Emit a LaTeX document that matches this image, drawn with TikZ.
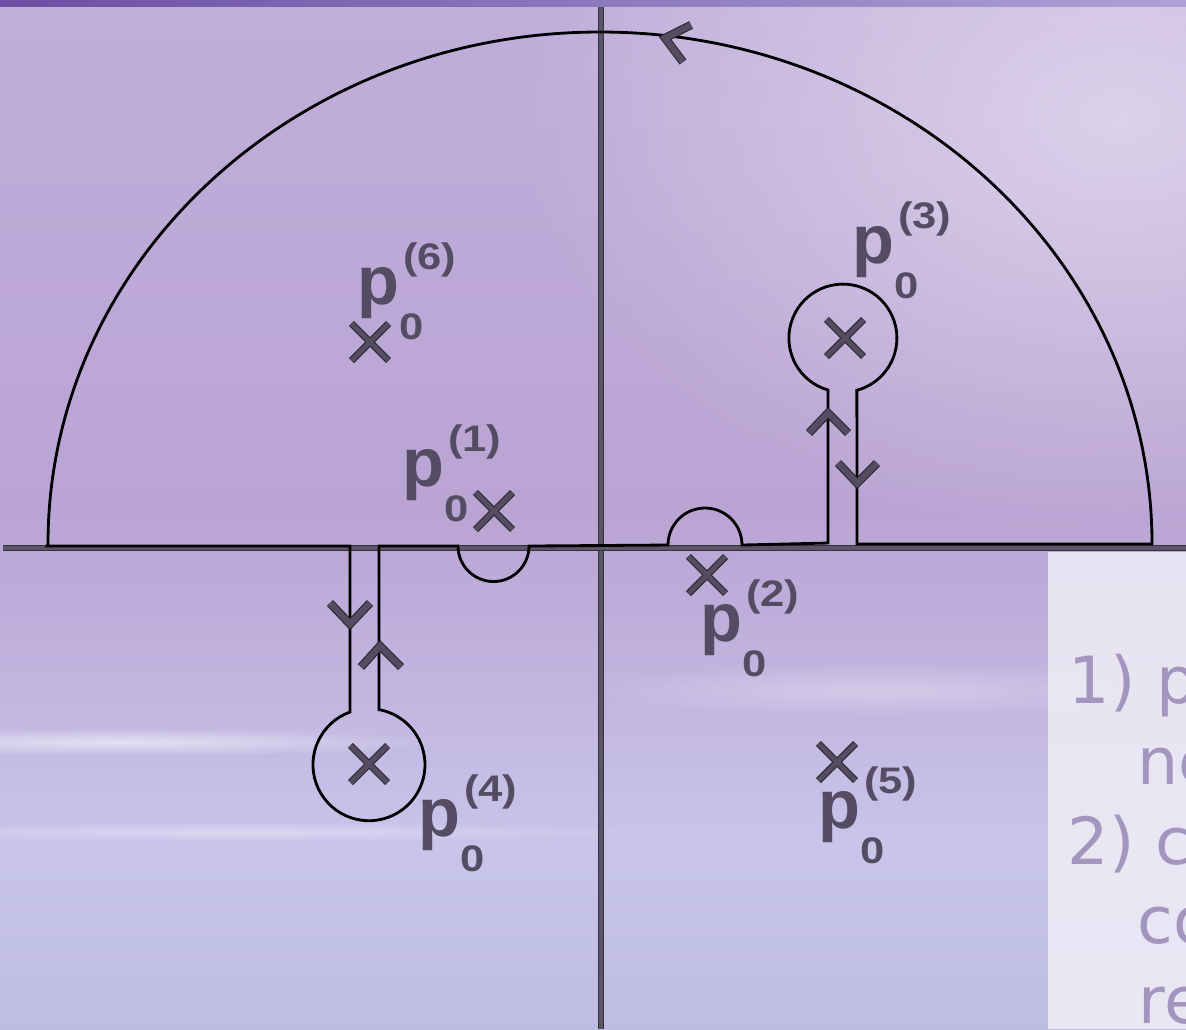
\documentclass[tikz,border=0pt]{standalone}
\usepackage{fontspec}
\usepackage{graphicx}
\usepackage{xcolor}
\usepackage{tikz}
\usetikzlibrary{shapes.misc,fadings}
\newfontfamily\labfont{Liberation Sans}
\newfontfamily\notefont{DejaVu Sans}
\definecolor{markgray}{RGB}{84,76,98}
\definecolor{axisgray}{RGB}{92,84,106}
\definecolor{notegray}{RGB}{163,150,190}
\definecolor{boxwhite}{RGB}{238,236,246}
\definecolor{bgtop}{RGB}{198,184,224}
\definecolor{bgmid}{RGB}{186,164,212}
\definecolor{bgsea}{RGB}{200,196,234}
\definecolor{bglow}{RGB}{186,184,222}
\definecolor{bgbot}{RGB}{168,166,204}
\definecolor{bandL}{RGB}{108,78,164}
\definecolor{bandR}{RGB}{172,162,216}
\pgfdeclareverticalshading{skyshade}{100bp}{color(0bp)=(bgbot); color(20bp)=(bglow);
  color(34bp)=(bgsea); color(50bp)=(bgmid); color(100bp)=(bgtop)}
\tikzfading[name=glow, inner color=transparent!0, outer color=transparent!100]
% p_0^{(k)} label
\newcommand{\pz}[1]{{\fontsize{19.5pt}{20pt}\selectfont p}%
  \rlap{\kern1pt\raisebox{9.7pt}{\scalebox{1.18}[1]{\fontsize{10.5pt}{11pt}\selectfont(#1)}}}%
  \raisebox{-10.2pt}{\scalebox{1.18}[1]{\fontsize{10.5pt}{11pt}\selectfont 0}}}

\begin{document}
\begin{tikzpicture}[x=0.01cm,y=-0.01cm,
  contour/.style={draw=black,line width=0.8pt},
  axisline/.style={draw=black!80,double=axisgray,double distance=1.3pt,line width=0.25pt},
  chev/.style={draw=black!85,double=markgray,double distance=1.8pt,line width=0.3pt,line join=miter},
  pole/.style={cross out,draw=black!85,double=markgray,double distance=1.4pt,line width=0.3pt,
               minimum size=0.36cm,inner sep=0pt},
  plab/.style={anchor=base west,inner sep=0pt,text=markgray,font=\labfont\bfseries},
  note/.style={anchor=base west,inner sep=0pt,text=notegray,
               font=\notefont\fontsize{18.5pt}{20pt}\selectfont}]
\useasboundingbox (0,0) rectangle (1186,1029);
\clip (0,0) rectangle (1186,1029);
% background
\shade[shading=skyshade] (0,0) rectangle (1186,1029);
\fill[white,opacity=.45,path fading=glow] (1120,120) ellipse [x radius=600,y radius=420];
\fill[white,opacity=.55,path fading=glow] (120,742) ellipse [x radius=320,y radius=14];
\fill[white,opacity=.35,path fading=glow] (240,832) ellipse [x radius=440,y radius=10];
\fill[white,opacity=.30,path fading=glow] (880,690) ellipse [x radius=300,y radius=28];
\shade[left color=bandL,right color=bandR] (0,0) rectangle (1186,6);

% axes
\draw[axisline] (601,7) -- (601,1029);
\draw[axisline] (3,548) -- (1186,548);

% text box
\fill[boxwhite,opacity=.88] (1048,552) rectangle (1186,1029);
\foreach \t/\x/\y [count=\i] in {1) p/1068/703, ne/1137/784, 2) c/1067/864, co/1137/943, re/1138/1023}
  \node[note] (n\i) at (\x,\y) {\t};

% closed contour
\draw[contour] (47,546) -- (350,546) -- (350,712)
  arc[start angle=250.2,end angle=-79.7,radius=56]
  -- (379,546) -- (458,546)
  arc[start angle=180,end angle=0,radius=35.5]
  -- (668,545)
  arc[start angle=180,end angle=360,radius=37]
  -- (828,543) -- (828,390)
  arc[start angle=106,end angle=435,radius=54]
  -- (857,544) -- (1152,544)
  arc[start angle=0,end angle=-180,x radius=552,y radius=512]
  -- cycle;

% direction marks
\draw[chev] (691,25) -- (665,38) -- (683,62);
\draw[chev] (809,433) -- (828,413) -- (848,433);
\draw[chev] (838,463) -- (857,483) -- (877,463);
\draw[chev] (330,603) -- (350,624) -- (370,603);
\draw[chev] (361,667) -- (380,646) -- (401,667);

% poles
\foreach \n/\x/\y in {1/494/511, 2/707/575, 3/845/338, 4/369/764, 5/837/762, 6/370/342}
  \node[pole] (x\n) at (\x,\y) {};

% labels
\foreach \n/\x/\y in {1/402/486, 2/700/641, 3/852/263, 4/418/836, 5/818/828, 6/357/304}
  \node[plab] (p\n) at (\x,\y) {\pz{\n}};
\end{tikzpicture}
\end{document}
